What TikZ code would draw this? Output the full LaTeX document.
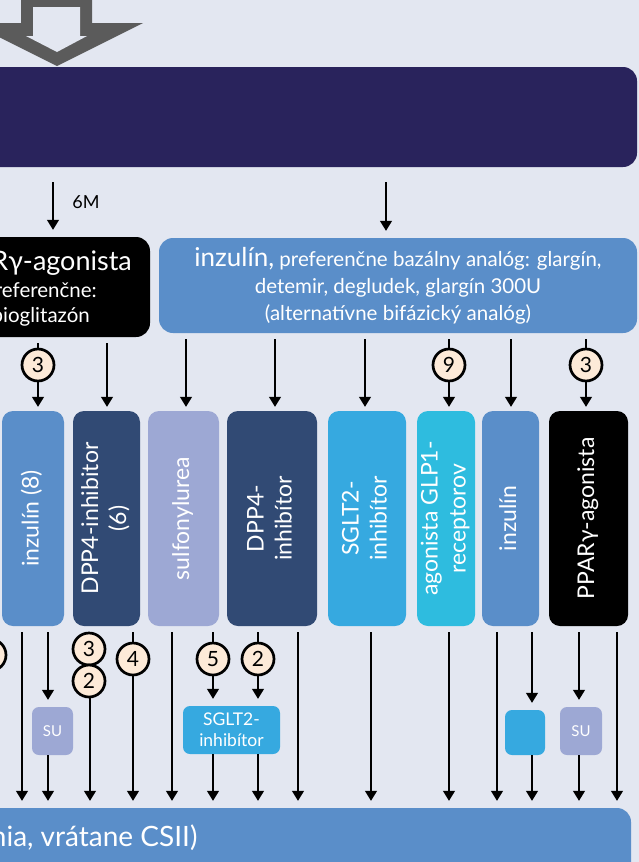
\documentclass[tikz,border=0pt]{standalone}
\usepackage{fontspec}
\setmainfont{Lato}
\usetikzlibrary{arrows.meta,positioning}
\definecolor{bgcol}{HTML}{E3E7F1}
\definecolor{navy}{HTML}{29235C}
\definecolor{insblue}{HTML}{5A8EC9}
\definecolor{dppblue}{HTML}{314A74}
\definecolor{sulfcol}{HTML}{9DA8D4}
\definecolor{sgltcol}{HTML}{36A9E0}
\definecolor{glpcol}{HTML}{2EBCDF}
\definecolor{peach}{HTML}{FDEAD8}
\definecolor{arrgray}{HTML}{5B5B5B}
\newcommand{\vtext}[1]{\rotatebox{90}{\begin{tabular}{@{}c@{}}#1\end{tabular}}}
\newcommand{\fs}[2]{\fontsize{#1}{#2}\selectfont}
\begin{document}
\begin{tikzpicture}[x=1pt,y=-1pt,>={Triangle[width=12pt,length=10pt]},
  box/.style={rounded corners=14pt,inner sep=0pt,text=white,align=center},
  colbox/.style={box,rounded corners=11pt,minimum height=215pt,font=\fs{23}{28}},
  smallbox/.style={box,rounded corners=7pt,minimum height=48pt},
  num/.style={circle,draw,line width=2.7pt,fill=peach,minimum size=32pt,inner sep=0pt,font=\fs{21}{21}},
  line/.style={anchor=base east,text=white,inner sep=0pt,font=\fs{20.5}{20.5}},
  arr/.style={->,line width=1.3pt,shorten >=7pt}]
\useasboundingbox (0,0) rectangle (639,862);
\clip (0,0) rectangle (639,862);
\fill[bgcol] (0,0) rectangle (639,862);
% hollow arrow at the top
\fill[arrgray] (21,-5) -- (92,-5) -- (92,23) -- (143,23) -- (57,66) -- (-29,23) -- (21,23) -- cycle;
\fill[bgcol] (33,7) -- (80,7) -- (80,36) -- (87,36) -- (57,52) -- (26,36) -- (33,36) -- cycle;
\node[box,fill=navy,minimum width=657pt,minimum height=100pt] (top) at (308.5,117) {};
\node[box,fill=black,minimum width=210pt,minimum height=100pt] (ppar) at (45,287) {};
\node[line,font=\fs{27}{27}] (ppar1) at (132,270) {PPARγ-agonista};
\node[line] (ppar2) at (97,297) {preferenčne:};
\node[line] (ppar3) at (90,322) {pioglitazón};
\node[box,fill=insblue,minimum width=478pt,minimum height=95pt,font=\fs{20.5}{27}] (ins) at (398,285.5)
  {{\fs{26}{27}inzulín,} preferenčne bazálny analóg: glargín,\\detemir, degludek, glargín 300U\\(alternatívne bifázický analóg)};
\draw[arr,shorten <=15pt] (top.south -| 53,0) -- (ppar.north -| 53,0);
\draw[arr,shorten <=15pt] (top.south -| 386,0) -- (ins.north -| 386,0);
\node[font=\fs{18}{18}] (sixm) at (86,202) {6M};
% columns
\node[colbox,fill=insblue,minimum width=62pt] (c1) at (33,518.5) {\vtext{inzulín (8)}};
\node[colbox,fill=dppblue,minimum width=67pt] (c2) at (106.5,518.5) {\vtext{DPP4-inhibitor\\(6)}};
\node[colbox,fill=sulfcol,minimum width=71pt] (c3) at (183.5,518.5) {\vtext{sulfonylurea}};
\node[colbox,fill=dppblue,minimum width=90pt] (c4) at (272,518.5) {\vtext{DPP4-\\inhibítor}};
\node[colbox,fill=sgltcol,minimum width=78pt] (c5) at (367,518.5) {\vtext{SGLT2-\\inhibítor}};
\node[colbox,fill=glpcol,minimum width=58pt] (c6) at (446,518.5) {\vtext{agonista GLP1-\\receptorov}};
\node[colbox,fill=insblue,minimum width=57pt] (c7) at (510.5,518.5) {\vtext{inzulín}};
\node[colbox,fill=black,minimum width=79pt] (c8) at (588.5,518.5) {\vtext{PPARγ-agonista}};
\foreach \x/\a/\b in {38/ppar/c1,107/ppar/c2,186/ins/c3,275/ins/c4,365/ins/c5,449/ins/c6,511/ins/c7,586/ins/c8}
  \draw[arr,shorten >=4pt,shorten <=6pt] (\a.south -| \x,0) -- (\b.north -| \x,0);
\node[num] (n1) at (38,365) {3};
\node[num] (n2) at (449,365) {9};
\node[num] (n3) at (586,365) {3};
% small boxes and bottom box
\node[smallbox,fill=sulfcol,minimum width=41pt,font=\fs{15}{15}] (su1) at (52.5,731) {SU};
\node[smallbox,fill=sgltcol,minimum width=97pt,font=\fs{17.5}{21}] (sg) at (231.5,730) {SGLT2-\\inhibítor};
\node[smallbox,fill=sgltcol,minimum width=40pt,minimum height=45pt] (bx) at (525,732.5) {};
\node[smallbox,fill=sulfcol,minimum width=42pt,font=\fs{15}{15}] (su2) at (581,731) {SU};
\node[box,fill=insblue,minimum width=651pt,minimum height=92pt] (low) at (305.5,854) {};
\node[anchor=east,text=white,font=\fs{28}{28}] (lowtxt) at (201,838) {ania, vrátane CSII)};
\foreach \x/\a in {22/c1,90/c2,133/c2,172/c3,298/c4,371/c5,449/c6,497/c7,617/c8}
  \draw[arr,shorten <=6pt] (\a.south -| \x,0) -- (low.north -| \x,0);
\foreach \x/\a/\b in {48/c1/su1,213/c3/sg,258/c4/sg,532/c7/bx,579/c8/su2}{
  \draw[arr,shorten <=6pt] (\a.south -| \x,0) -- (\b.north -| \x,0);
  \draw[arr] (\b.south -| \x,0) -- (low.north -| \x,0);}
\node[num] (m0) at (-10,655) {};
\node[num] (m1) at (89,649) {3};
\node[num] (m2) at (89,681) {2};
\node[num] (m3) at (133,659) {4};
\node[num] (m4) at (213,659) {5};
\node[num] (m5) at (258,659) {2};
\end{tikzpicture}
\end{document}
